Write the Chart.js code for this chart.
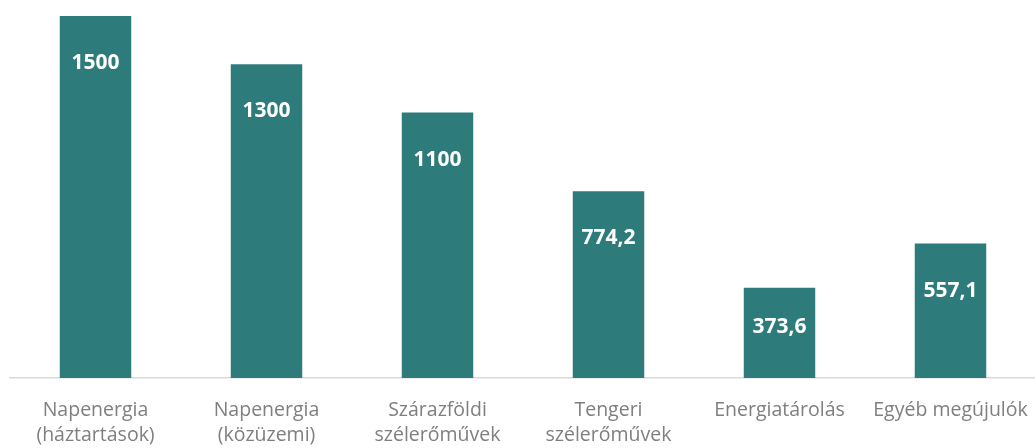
<!DOCTYPE html>
<html>
<head>
<meta charset="utf-8">
<script src="https://cdn.jsdelivr.net/npm/chart.js@4/dist/chart.umd.min.js"></script>
<style>
  html, body { margin: 0; padding: 0; background: #fff; overflow: hidden; }
  #wrap { width: 1037px; height: 448px; overflow: hidden; }
  #box { position: relative; width: 1037px; height: 467px; }
</style>
</head>
<body>
<div id="wrap"><div id="box"><canvas id="chart"></canvas></div></div>
<script>
  // Chart data
  const categories = [
    ['Napenergia', '(háztartások)'],
    ['Napenergia', '(közüzemi)'],
    ['Szárazföldi', 'szélerőművek'],
    ['Tengeri', 'szélerőművek'],
    'Energiatárolás',
    'Egyéb megújulók'
  ];
  const values = [1500, 1300, 1100, 774.2, 373.6, 557.1];
  const valueLabels = ['1500', '1300', '1100', '774,2', '373,6', '557,1'];

  const barColor = '#2E7B7B';
  const axisText = '#7F7F7F';

  // white value labels inside the top of each bar
  const insideLabels = {
    id: 'insideLabels',
    afterDatasetsDraw(chart){
      const ctx = chart.ctx;
      const meta = chart.getDatasetMeta(0);
      ctx.save();
      ctx.fillStyle = '#ffffff';
      ctx.font = 'bold 21px "Open Sans"';
      ctx.textAlign = 'center';
      ctx.textBaseline = 'middle';
      meta.data.forEach((bar, i) => {
        const h = bar.base - bar.y;
        const off = Math.min(47, h * 0.44);
        ctx.fillText(valueLabels[i], bar.x, bar.y + off);
      });
      ctx.restore();
    }
  };

  new Chart(document.getElementById('chart'), {
    type: 'bar',
    data: {
      labels: categories,
      datasets: [{
        data: values,
        backgroundColor: barColor,
        borderWidth: 0,
        barPercentage: 0.418,
        categoryPercentage: 1
      }]
    },
    options: {
      responsive: true,
      maintainAspectRatio: false,
      animation: false,
      layout: { padding: { left: 10, right: 1, top: 16, bottom: 0 } },
      plugins: {
        legend: { display: false },
        tooltip: { enabled: false }
      },
      scales: {
        x: {
          grid: { display: false, drawTicks: false },
          border: { display: true, color: '#D9D9D9', width: 1.5 },
          ticks: {
            color: axisText,
            padding: 19.5,
            maxRotation: 0,
            autoSkip: false,
            font: { family: '"Open Sans"', size: 19.5, lineHeight: 25 / 19.5 }
          },
          // let the last label run off the edge like the original
          afterFit(scale){ scale.paddingLeft = 0; scale.paddingRight = 0; }
        },
        y: {
          display: false,
          min: 0,
          max: 1500
        }
      }
    },
    plugins: [insideLabels]
  });
</script>
</body>
</html>
